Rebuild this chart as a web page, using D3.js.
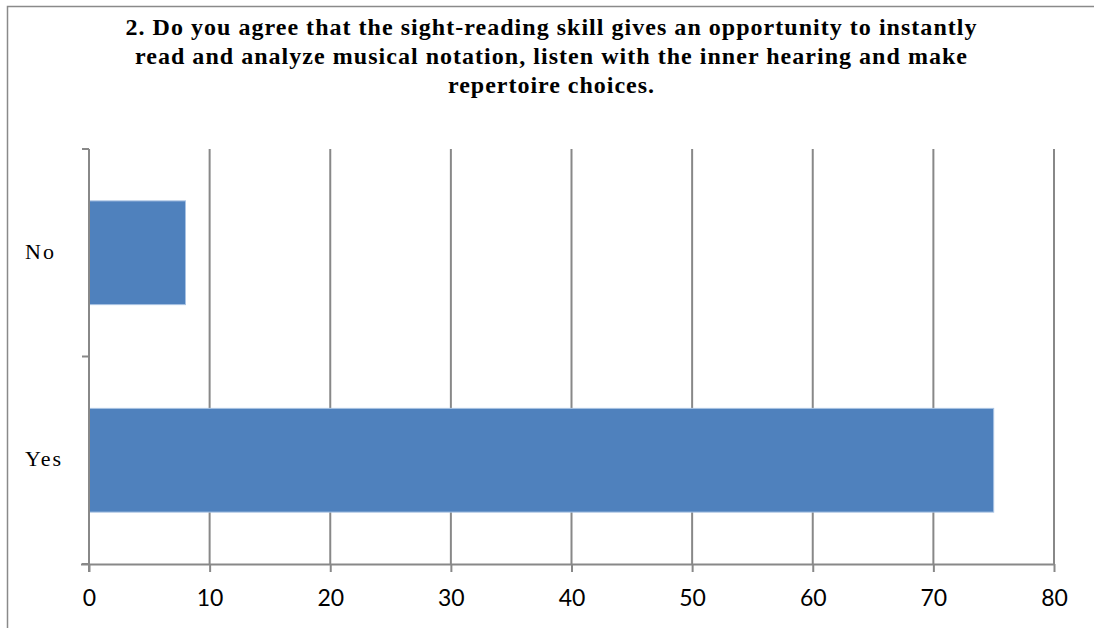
<!DOCTYPE html>
<html><head><meta charset="utf-8">
<script src="https://cdn.jsdelivr.net/npm/d3@7"></script>
<style>body{margin:0;background:#fff}svg{display:block}</style>
</head><body>
<svg id="c" width="1094" height="628"></svg>
<script>
const categories = ["No", "Yes"];
const values = [8, 75];
const xTicks = [0, 10, 20, 30, 40, 50, 60, 70, 80];
const titleLines = [
  "2. Do you agree that the sight-reading skill gives an opportunity to instantly",
  "read and analyze musical notation, listen with the inner hearing and make",
  "repertoire choices."
];

(function () {
const svg = d3.select("#c");
const grid = "#888888";
const pL = 89, pR = 1054, pT = 149, pB = 564;
const titleWidths = [851, 832, 206];

// frame
svg.append("path").attr("d", "M7.5,628 V6.5 H1094").attr("fill", "none").attr("stroke", "#8a8a8a").attr("stroke-width", 1.5);

// title
svg.append("g").selectAll("text").data(titleLines).join("text")
  .attr("x", 551).attr("y", (d, i) => 34.5 + i * 29)
  .attr("text-anchor", "middle")
  .attr("font-family", "'Liberation Serif', serif").attr("font-weight", "bold")
  .attr("font-size", 24).attr("fill", "#000")
  .attr("textLength", (d, i) => titleWidths[i]).attr("lengthAdjust", "spacing")
  .text(d => d);

const x = d3.scaleLinear().domain([0, 80]).range([pL, pR]);
const y = d3.scaleBand().domain(categories).range([pT, pB]).paddingInner(0.5).paddingOuter(0.25);

// gridlines
svg.append("g").selectAll("line").data(xTicks.slice(1)).join("line")
  .attr("x1", d => x(d)).attr("x2", d => x(d)).attr("y1", pT).attr("y2", pB)
  .attr("stroke", grid).attr("stroke-width", 2);

// bars
svg.append("g").selectAll("rect").data(categories).join("rect")
  .attr("x", x(0)).attr("y", d => y(d))
  .attr("width", (d, i) => x(values[i]) - x(0)).attr("height", y.bandwidth())
  .attr("fill", "#4F81BD").attr("stroke", "#a9c3e3").attr("stroke-width", 1);

// x axis
const xa = svg.append("g").attr("transform", `translate(0,${pB})`)
  .call(d3.axisBottom(x).tickValues(xTicks).tickSize(8).tickPadding(18));
xa.select(".domain").attr("d", `M${pL - 8},0.5H${pR}`).attr("stroke", grid).attr("stroke-width", 2);
xa.selectAll(".tick line").attr("stroke", grid).attr("stroke-width", 2);
xa.selectAll(".tick text").attr("font-family", "Lato, 'Open Sans', sans-serif").attr("font-size", 23).attr("fill", "#000");

// y axis
const ya = svg.append("g").attr("transform", `translate(${pL},0)`);
ya.append("line").attr("x1", 0).attr("x2", 0).attr("y1", pT).attr("y2", pB + 8).attr("stroke", grid).attr("stroke-width", 2);
const yb = [pT, (pT + pB) / 2, pB];
ya.selectAll("line.t").data(yb).join("line").attr("class", "t")
  .attr("x1", -7).attr("x2", 0).attr("y1", d => d).attr("y2", d => d).attr("stroke", grid).attr("stroke-width", 2);
ya.selectAll("text").data(categories).join("text")
  .attr("x", -64).attr("y", d => y(d) + y.bandwidth() / 2 + 6)
  .attr("font-family", "'Liberation Serif', serif").attr("font-size", 22).attr("letter-spacing", 2)
  .attr("fill", "#000").text(d => d);
})();
</script>
</body></html>
